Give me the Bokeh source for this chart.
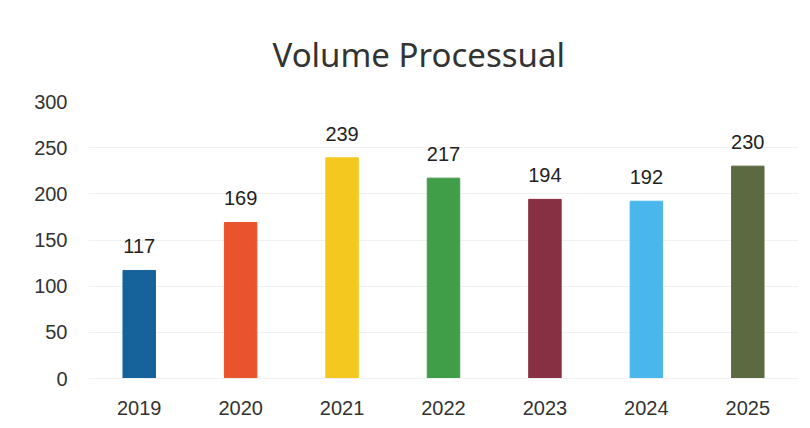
from bokeh.plotting import figure
from bokeh.models import ColumnDataSource, LabelSet, Range1d, FixedTicker
from bokeh.core.properties import value
from bokeh.embed import file_html
from bokeh.resources import INLINE

title_text = "Volume Processual"
years = ["2019", "2020", "2021", "2022", "2023", "2024", "2025"]
values = [117, 169, 239, 217, 194, 192, 230]
colors = ["#16629A", "#E9532D", "#F4C81E", "#409D48", "#873043", "#4AB7EC", "#5C6A42"]
y_ticks = [0, 50, 100, 150, 200, 250, 300]

src = ColumnDataSource(dict(years=years, values=values, colors=colors,
                            labels=[str(v) for v in values]))

p = figure(x_range=years, frame_width=710, frame_height=277, output_backend="svg",
           toolbar_location=None, title=title_text)
p.y_range = Range1d(0, 300)
p.vbar(x="years", top="values", width=0.32, color="colors", source=src)

labels = LabelSet(x="years", y="values", text="labels", source=src,
                  text_align="center", text_baseline="alphabetic", y_offset=17,
                  text_font_size="20px", text_color="#222222",
                  text_font=value("Liberation Sans"))
p.add_layout(labels)

p.title.text_font = "Noto Sans"
p.title.text_font_size = "33px"
p.title.text_font_style = "normal"
p.title.text_color = "#333333"
p.title.align = "left"
p.title.offset = 184
p.title.standoff = 50

p.min_border_left = 88
p.min_border_right = 6
p.min_border_bottom = 30
p.min_border_top = 101

p.outline_line_color = None
p.xgrid.grid_line_color = None
p.ygrid.grid_line_color = "#F1F1F1"
p.ygrid.ticker = FixedTicker(ticks=y_ticks)
p.yaxis.ticker = FixedTicker(ticks=y_ticks)

for ax in (p.xaxis, p.yaxis):
    ax.axis_line_color = None
    ax.major_tick_line_color = None
    ax.minor_tick_line_color = None
    ax.major_label_text_font = "Liberation Sans"
    ax.major_label_text_font_size = "20px"
    ax.major_label_text_color = "#333333"

p.yaxis.major_label_standoff = 15
p.xaxis.major_label_standoff = 16
p.xaxis.axis_line_color = "#F1F1F1"

open("out.html", "w").write(file_html(p, INLINE))
